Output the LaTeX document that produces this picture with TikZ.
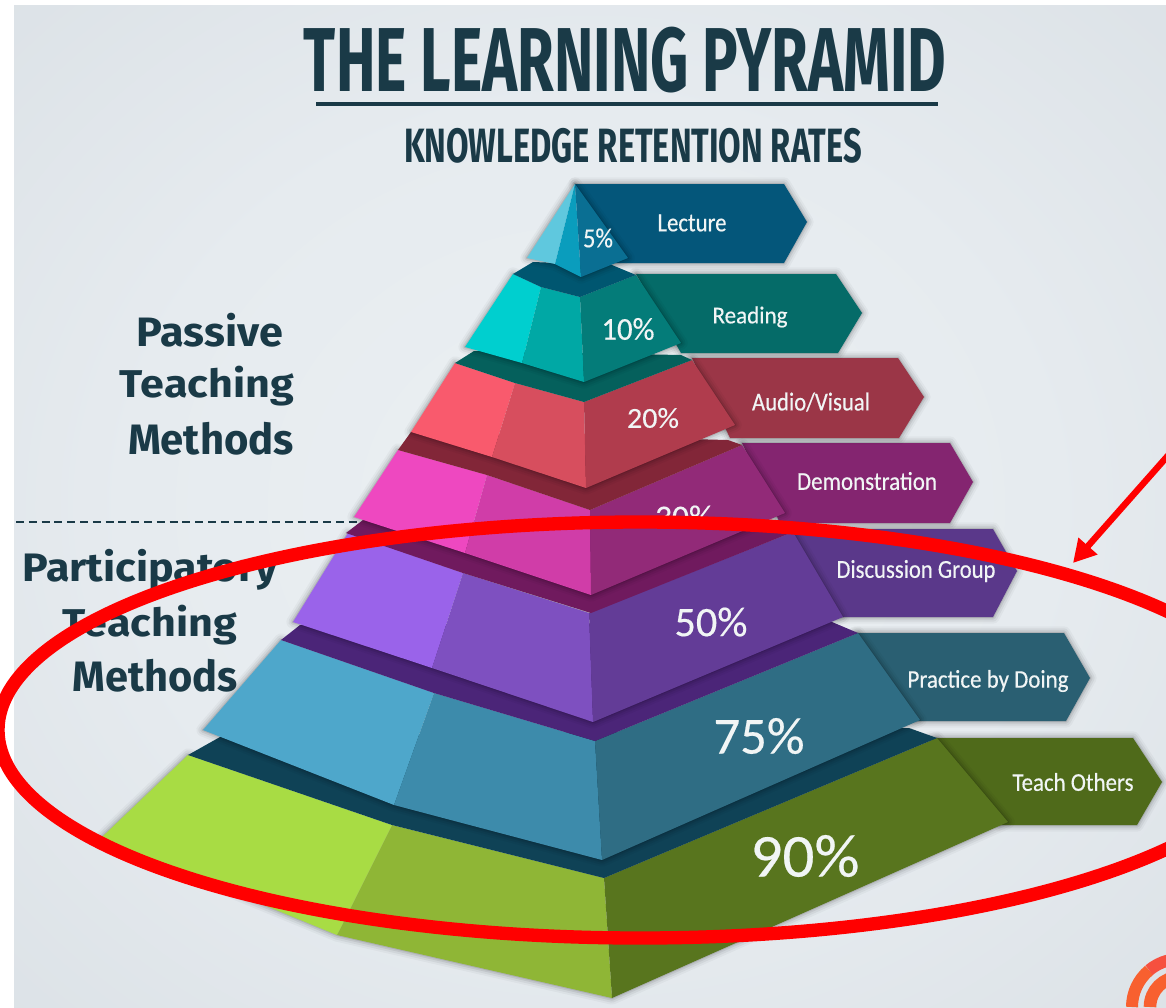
\documentclass[tikz,border=0pt]{standalone}
\usepackage{fontspec}
\setmainfont{Fira Sans}
\newfontfamily\lblmed[FakeBold=0.35]{Carlito}
\usetikzlibrary{arrows.meta}
\definecolor{ink}{HTML}{1A3A47}
\definecolor{paper}{HTML}{EBF0F3}
\definecolor{papermid}{HTML}{E6EBEF}
\definecolor{papersoft}{HTML}{DBE1E6}
\definecolor{paperedge}{HTML}{D1D9DF}
\definecolor{lbl}{HTML}{F1F5F5}
\definecolor{redmark}{HTML}{FF0000}
\definecolor{logoC}{HTML}{F8602F}
\definecolor{logoD}{HTML}{F6503F}
\definecolor{logoE}{HTML}{F0455A}
% tier colours: L light, M mid, R right, F flag, B band
\definecolor{aL}{HTML}{5FC8DE}\definecolor{aM}{HTML}{0A9DBD}\definecolor{aR}{HTML}{0A6F93}\definecolor{aF}{HTML}{04567A}\definecolor{aB}{HTML}{005670}
\definecolor{bL}{HTML}{00CFCF}\definecolor{bM}{HTML}{00A8A5}\definecolor{bR}{HTML}{047C79}\definecolor{bF}{HTML}{056B68}\definecolor{bB}{HTML}{05605C}
\definecolor{cL}{HTML}{F95A6D}\definecolor{cM}{HTML}{D74E5E}\definecolor{cR}{HTML}{B03C4D}\definecolor{cF}{HTML}{9B3647}\definecolor{cB}{HTML}{822638}
\definecolor{dL}{HTML}{EE48C0}\definecolor{dM}{HTML}{D03DA8}\definecolor{dR}{HTML}{922A78}\definecolor{dF}{HTML}{842570}\definecolor{dB}{HTML}{701A5E}
\definecolor{eL}{HTML}{9A63EA}\definecolor{eM}{HTML}{7E50C0}\definecolor{eR}{HTML}{633C97}\definecolor{eF}{HTML}{5A388A}\definecolor{eB}{HTML}{4B2578}
\definecolor{fL}{HTML}{4EA7CB}\definecolor{fM}{HTML}{3D8BAB}\definecolor{fR}{HTML}{2F6D84}\definecolor{fF}{HTML}{2A5F72}\definecolor{fB}{HTML}{0F4256}
\definecolor{gL}{HTML}{A8DC44}\definecolor{gM}{HTML}{8FB636}\definecolor{gR}{HTML}{58751E}\definecolor{gF}{HTML}{4F6A1A}
\pgfdeclareradialshading{softbg}{\pgfpoint{0bp}{0bp}}{color(0bp)=(paper); color(20bp)=(papermid); color(38bp)=(papersoft); color(50bp)=(paperedge)}
\newdimen\pxu \pxu=0.75pt
\newcommand{\fitbox}[3]{\resizebox*{#1\pxu}{#2\pxu}{#3}}
\tikzset{
  x=0.75pt,y=-0.75pt,
  softshadow/.style={
    preaction={draw=black,draw opacity=.03,line width=10pt,line join=round,fill=none},
    preaction={draw=black,draw opacity=.05,line width=7pt,line join=round,fill=none},
    preaction={draw=black,draw opacity=.07,line width=4pt,line join=round,fill=none},
    preaction={draw=black,draw opacity=.10,line width=1.5pt,line join=round,fill=none}},
  flag/.style={fill=#1,draw=none,softshadow},
  inlab/.style={inner sep=0pt,outer sep=0pt,text=lbl,anchor=center},
  heading/.style={inner sep=0pt,outer sep=0pt,text=ink,anchor=center},
}
\begin{document}
\begin{tikzpicture}
\useasboundingbox (0,0) rectangle (1166,1007);
\clip (0,0) rectangle (1166,1007);
\fill[white] (0,0) rectangle (1166,1007);
\shade[shading=softbg] (14,5) rectangle (1166,1007);

% dashed divider
\coordinate (dashA) at (16,522);
\coordinate (dashB) at (365,522);
\draw[ink,line width=1.5pt,dash pattern=on 6pt off 3.6pt] (dashA) -- (dashB);

% title
\node[heading] (title) at (625,60) {\fitbox{642}{66}{\bfseries THE LEARNING PYRAMID}};
\coordinate (ruleA) at (316,104);
\coordinate (ruleB) at (938,104);
\draw[ink,line width=3.6pt] (ruleA) -- (ruleB);
\node[heading] (subtitle) at (633,146) {\fitbox{458}{35}{\bfseries KNOWLEDGE RETENTION RATES}};

% side headings
\node[heading] (p1) at (210,330) {\fitbox{146}{34}{\bfseries Passive}};
\node[heading] (p2) at (207,386) {\fitbox{174}{40}{\bfseries Teaching}};
\node[heading] (p3) at (211,439) {\fitbox{166}{33}{\bfseries Methods}};
\node[heading] (q1) at (150,570) {\fitbox{255}{41}{\bfseries Participatory}};
\node[heading] (q2) at (150,625) {\fitbox{174}{40}{\bfseries Teaching}};
\node[heading] (q3) at (155,676) {\fitbox{165}{33}{\bfseries Methods}};

% flags
\path[flag=gF] (930,738) -- (1133,738) -- (1162,782) -- (1137,825) -- (1000,825) -- cycle;
\path[flag=fF] (855,633) -- (1064,633) -- (1090,678) -- (1066,721) -- (915,721) -- cycle;
\path[flag=eF] (790,529) -- (993,529) -- (1017,571) -- (993,617) -- (840,617) -- cycle;
\path[flag=dF] (742,443) -- (950,443) -- (973,482) -- (950,523) -- (780,523) -- cycle;
\path[flag=cF] (692,358) -- (898,358) -- (924,397) -- (899,438) -- (730,438) -- cycle;
\path[flag=bF] (636,274) -- (836,274) -- (862,313) -- (838,353) -- (681,353) -- cycle;
\path[flag=aF] (575,184) -- (784,184) -- (807,222) -- (784,263) -- (610,263) -- cycle;

% tier 7
\path[softshadow] (188,755) -- (101,838) -- (337,935) -- (612,998) -- (1008,822) -- (937,738) -- (604,878) -- cycle;
\fill[gL] (188,755) -- (101,838) -- (337,935) -- (392,825) -- cycle;
\fill[gM] (392,825) -- (337,935) -- (612,998) -- (604,878) -- cycle;
\fill[gR] (604,878) -- (612,998) -- (1008,822) -- (937,738) -- cycle;
% band 6
\fill[fB] (188,755) -- (220,737) -- (909,728) -- (937,738) -- (604,878) -- (392,825) -- cycle;
% tier 6
\path[softshadow] (281,640) -- (203,730) -- (394,805) -- (602,860) -- (920,720) -- (858,633) -- (595,741) -- (434,693) -- cycle;
\fill[fL] (281,640) -- (203,730) -- (394,805) -- (434,693) -- cycle;
\fill[fM] (434,693) -- (394,805) -- (602,860) -- (595,741) -- cycle;
\fill[fR] (595,741) -- (602,860) -- (920,720) -- (858,633) -- cycle;
% band 5
\fill[eB] (281,640) -- (300,625) -- (832,622) -- (858,633) -- (595,741) -- (434,693) -- cycle;
% tier 5
\path[softshadow] (348,533) -- (293,622) -- (432,668) -- (593,722) -- (843,617) -- (793,532) -- (589,613) -- (463,573) -- cycle;
\fill[eL] (348,533) -- (293,622) -- (432,668) -- (463,573) -- cycle;
\fill[eM] (463,573) -- (432,668) -- (593,722) -- (589,613) -- cycle;
\fill[eR] (589,613) -- (593,722) -- (843,617) -- (793,532) -- cycle;
% band 4
\fill[dB] (346,533) -- (363,520) -- (782,525) -- (793,532) -- (591,613) -- (463,573) -- cycle;
% tier 4
\path[softshadow] (398,450) -- (354,517) -- (465,553) -- (591,595) -- (785,513) -- (742,445) -- (590,510) -- (487,475) -- cycle;
\fill[dL] (398,450) -- (354,517) -- (465,553) -- (487,475) -- cycle;
\fill[dM] (487,475) -- (465,553) -- (591,595) -- (590,510) -- cycle;
\fill[dR] (590,510) -- (591,595) -- (785,513) -- (742,445) -- cycle;
% band 3
\fill[cB] (398,450) -- (411,432) -- (728,440) -- (742,445) -- (590,510) -- (487,475) -- cycle;
% tier 3
\path[softshadow] (455,363) -- (411,432) -- (492,457) -- (586,488) -- (735,425) -- (692,360) -- (584,402) -- (515,383) -- cycle;
\fill[cL] (455,363) -- (411,432) -- (492,457) -- (515,383) -- cycle;
\fill[cM] (515,383) -- (492,457) -- (586,488) -- (584,402) -- cycle;
\fill[cR] (584,402) -- (586,488) -- (735,425) -- (692,360) -- cycle;
% band 2
\fill[bB] (455,363) -- (474,351) -- (681,355) -- (692,360) -- (584,402) -- (515,383) -- cycle;
% tier 2
\path[softshadow] (513,274) -- (465,347) -- (522,363) -- (584,382) -- (681,343) -- (636,275) -- (580,297) -- (541,287) -- cycle;
\fill[bL] (513,274) -- (465,347) -- (522,363) -- (541,287) -- cycle;
\fill[bM] (541,287) -- (522,363) -- (584,382) -- (580,297) -- cycle;
\fill[bR] (580,297) -- (584,382) -- (681,343) -- (636,275) -- cycle;
% band 1
\fill[aB] (513,274) -- (533,262) -- (612,265) -- (636,275) -- (580,297) -- (541,287) -- cycle;
% tier 1
\path[softshadow] (575,184) -- (527,258) -- (555,264) -- (581,277) -- (628,258) -- cycle;
\fill[aL] (575,184) -- (527,258) -- (555,264) -- cycle;
\fill[aM] (575,184) -- (555,264) -- (581,277) -- cycle;
\fill[aR] (575,184) -- (581,277) -- (628,258) -- cycle;

% percentages
\node[inlab] (r1) at (598,238) {\fitbox{30}{19}{\lblmed 5\%}};
\node[inlab] (r2) at (628,329) {\fitbox{53}{22}{\lblmed 10\%}};
\node[inlab] (r3) at (653,418) {\fitbox{52}{20}{\lblmed 20\%}};
\node[inlab] (r4) at (684,517) {\fitbox{58}{23}{\lblmed 30\%}};
\node[inlab] (r5) at (711,622) {\fitbox{73}{29}{\lblmed 50\%}};
\node[inlab] (r6) at (759,736) {\fitbox{91}{36}{\lblmed 75\%}};
\node[inlab] (r7) at (805,856) {\fitbox{109}{42}{\lblmed 90\%}};

% flag labels
\node[inlab] (l1) at (692,223) {\fitbox{69}{17}{\lblmed Lecture}};
\node[inlab] (l2) at (750,317) {\fitbox{75}{21}{\lblmed Reading}};
\node[inlab] (l3) at (811,402) {\fitbox{118}{19}{\lblmed Audio/Visual}};
\node[inlab] (l4) at (867,481) {\fitbox{140}{18}{\lblmed Demonstration}};
\node[inlab] (l5) at (916,571) {\fitbox{159}{22}{\lblmed Discussion Group}};
\node[inlab] (l6) at (988,681) {\fitbox{161}{22}{\lblmed Practice by Doing}};
\node[inlab] (l7) at (1073,782) {\fitbox{121}{18}{\lblmed Teach Others}};

% logo
\draw[line width=9pt,logoC] (1132,1007) arc (180:230:48);
\draw[line width=9pt,logoD] (1149.1,970.2) arc (230:255:48);
\draw[line width=9pt,logoE] (1167.6,960.6) arc (255:272:48);
\draw[line width=9.5pt,logoC] (1150,1007) arc (180:270:30);

% red annotation
\coordinate (ringC) at (640,730);
\draw[redmark,line width=10pt] (ringC) ellipse [x radius=642,y radius=208];
\coordinate (arrowFrom) at (1172,451);
\coordinate (arrowTo) at (1073,563);
\draw[redmark,line width=4.8pt,-{Triangle[length=17pt,width=18pt]}] (arrowFrom) -- (arrowTo);
\end{tikzpicture}
\end{document}
